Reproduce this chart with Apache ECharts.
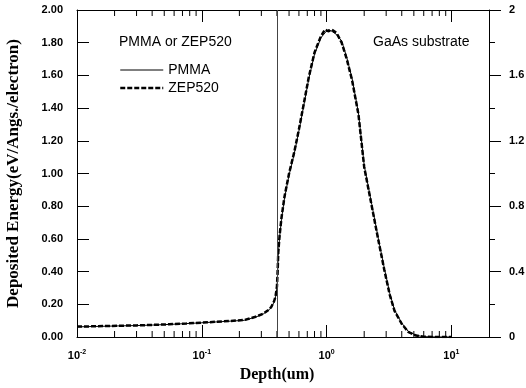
<!DOCTYPE html>
<html>
<head>
<meta charset="utf-8">
<style>
  html, body { margin: 0; padding: 0; background: #fff; }
  #chart { width: 526px; height: 388px; }
</style>
<script src="https://cdn.jsdelivr.net/npm/echarts@6/dist/echarts.min.js"></script>
</head>
<body>
<div id="chart"></div>
<script>
// depth in um (log axis), deposited energy in eV/Angs./electron
const depth = [0.01, 0.013, 0.017, 0.022, 0.03, 0.04, 0.055, 0.075, 0.1, 0.13, 0.17, 0.22, 0.27, 0.31, 0.34, 0.36, 0.38, 0.39, 0.4, 0.405, 0.41, 0.42, 0.435, 0.46, 0.5, 0.55, 0.6, 0.65, 0.72, 0.8, 0.9, 0.97, 1.03, 1.1, 1.2, 1.32, 1.45, 1.6, 1.8, 2.0, 2.3, 2.6, 2.9, 3.2, 3.5, 4.0, 4.5, 5.2, 6.0, 7.5, 10];
const pmma = [0.062, 0.064, 0.066, 0.068, 0.070, 0.073, 0.077, 0.082, 0.087, 0.092, 0.097, 0.102, 0.122, 0.140, 0.162, 0.180, 0.215, 0.245, 0.30, 0.38, 0.50, 0.61, 0.72, 0.85, 0.99, 1.12, 1.26, 1.40, 1.58, 1.73, 1.83, 1.86, 1.88, 1.87, 1.85, 1.81, 1.71, 1.58, 1.37, 1.05, 0.81, 0.60, 0.42, 0.27, 0.165, 0.085, 0.035, 0.010, 0.002, 0, 0];
const zep520 = [0.064, 0.065, 0.067, 0.069, 0.071, 0.074, 0.078, 0.083, 0.088, 0.093, 0.098, 0.104, 0.124, 0.142, 0.164, 0.183, 0.22, 0.25, 0.31, 0.40, 0.52, 0.62, 0.73, 0.86, 1.00, 1.13, 1.27, 1.41, 1.59, 1.74, 1.84, 1.88, 1.87, 1.88, 1.86, 1.80, 1.70, 1.57, 1.36, 1.04, 0.80, 0.59, 0.41, 0.26, 0.16, 0.08, 0.032, 0.009, 0.002, 0, 0];
const resistThickness = 0.4;
const minorTicks = [0.02, 0.03, 0.04, 0.05, 0.06, 0.07, 0.08, 0.09, 0.2, 0.3, 0.4, 0.5, 0.6, 0.7, 0.8, 0.9, 2, 3, 4, 5, 6, 7, 8, 9];

const chart = echarts.init(document.getElementById('chart'));
const sans = '"Liberation Sans", Arial, sans-serif';
const serif = '"Liberation Serif", "Times New Roman", serif';

const xCommon = {
  type: 'log',
  logBase: 10,
  min: 0.01,
  max: 20,
  axisLine: { onZero: false, lineStyle: { color: '#000', width: 1 } },
  axisTick: { inside: true, length: 12, lineStyle: { color: '#000' } },
  splitLine: { show: false }
};

chart.setOption({
  animation: false,
  backgroundColor: '#fff',
  grid: { left: 77, right: 37, top: 10, bottom: 51, containLabel: false, outerBoundsMode: 'none' },
  legend: {
    data: [
      { name: 'PMMA', lineStyle: { width: 1 } },
      { name: 'ZEP520', lineStyle: { width: 2.5 } }
    ],
    orient: 'vertical',
    left: 119,
    top: 63,
    padding: 0,
    itemWidth: 43,
    itemHeight: 14,
    itemGap: 4,
    itemStyle: { opacity: 0 },
    textStyle: { fontFamily: sans, fontSize: 14, color: '#000' }
  },
  graphic: [
    { type: 'text', left: 119, top: 35, style: { text: 'PMMA or ZEP520', font: '14px ' + sans, fill: '#000' } },
    { type: 'text', left: 373, top: 35, style: { text: 'GaAs substrate', font: '14px ' + sans, fill: '#000' } }
  ],
  xAxis: [
    Object.assign({}, xCommon, {
      position: 'bottom',
      name: 'Depth(um)',
      nameLocation: 'middle',
      nameGap: 30,
      nameTextStyle: { fontFamily: serif, fontWeight: 'bold', fontSize: 16, color: '#000', padding: [0, 12, 0, 0] },
      axisLabel: {
        margin: 12,
        color: '#000',
        formatter: v => {
          const e = Math.log10(v);
          if (Math.abs(e - Math.round(e)) > 1e-6) return '';
          return '{b|10}{s|' + Math.round(e) + '}';
        },
        rich: {
          b: { fontFamily: sans, fontWeight: 'bold', fontSize: 11, color: '#000' },
          s: { fontFamily: sans, fontWeight: 'bold', fontSize: 7, color: '#000', verticalAlign: 'top', padding: [0, 0, 6, 0] }
        }
      }
    }),
    Object.assign({}, xCommon, {
      position: 'top',
      axisLabel: { show: false }
    })
  ],
  yAxis: [
    {
      type: 'value',
      position: 'left',
      min: 0,
      max: 2,
      interval: 0.2,
      name: 'Deposited Energy(eV/Angs./electron)',
      nameLocation: 'middle',
      nameGap: 55,
      nameTextStyle: { fontFamily: serif, fontWeight: 'bold', fontSize: 17, color: '#000' },
      axisLine: { show: true, onZero: false, lineStyle: { color: '#000', width: 1 } },
      axisTick: { show: true, inside: true, length: 12, lineStyle: { color: '#000' } },
      axisLabel: { margin: 14, color: '#000', fontFamily: sans, fontWeight: 'bold', fontSize: 11, formatter: v => v.toFixed(2) },
      splitLine: { show: false }
    },
    {
      type: 'value',
      position: 'right',
      min: 0,
      max: 2,
      interval: 0.4,
      axisLine: { show: true, onZero: false, lineStyle: { color: '#000', width: 1 } },
      axisTick: { show: true, inside: false, length: 12, lineStyle: { color: '#000' } },
      minorTick: { show: true, splitNumber: 2, length: 6, lineStyle: { color: '#000' } },
      axisLabel: { margin: 20, color: '#000', fontFamily: sans, fontWeight: 'bold', fontSize: 11, formatter: v => String(+v.toFixed(1)) },
      splitLine: { show: false }
    }
  ],
  series: [
    {
      name: 'PMMA',
      type: 'line',
      data: depth.map((d, i) => [d, pmma[i]]),
      symbol: 'none',
      lineStyle: { color: '#000', width: 1 },
      itemStyle: { color: '#000' },
      z: 3,
      markLine: {
        silent: true,
        symbol: 'none',
        label: { show: false },
        lineStyle: { color: '#444', width: 1, type: 'solid' },
        data: [{ xAxis: resistThickness }]
      }
    },
    {
      name: 'ZEP520',
      type: 'line',
      data: depth.map((d, i) => [d, zep520[i]]),
      symbol: 'none',
      lineStyle: { color: '#000', width: 2.5, type: [5, 2] },
      itemStyle: { color: '#000' },
      z: 2
    },
    {
      // log-axis minor ticks (2..9 per decade) on bottom and top edges
      type: 'custom',
      silent: true,
      data: minorTicks.map(v => [v, 0]),
      renderItem: (params, api) => {
        const v = api.value(0);
        const b = api.coord([v, 0]);
        const t = api.coord([v, 2]);
        return {
          type: 'group',
          children: [
            { type: 'line', shape: { x1: b[0], y1: b[1], x2: b[0], y2: b[1] - 6 }, style: { stroke: '#000', lineWidth: 1 } },
            { type: 'line', shape: { x1: t[0], y1: t[1], x2: t[0], y2: t[1] + 6 }, style: { stroke: '#000', lineWidth: 1 } }
          ]
        };
      }
    }
  ]
});
</script>
</body>
</html>
